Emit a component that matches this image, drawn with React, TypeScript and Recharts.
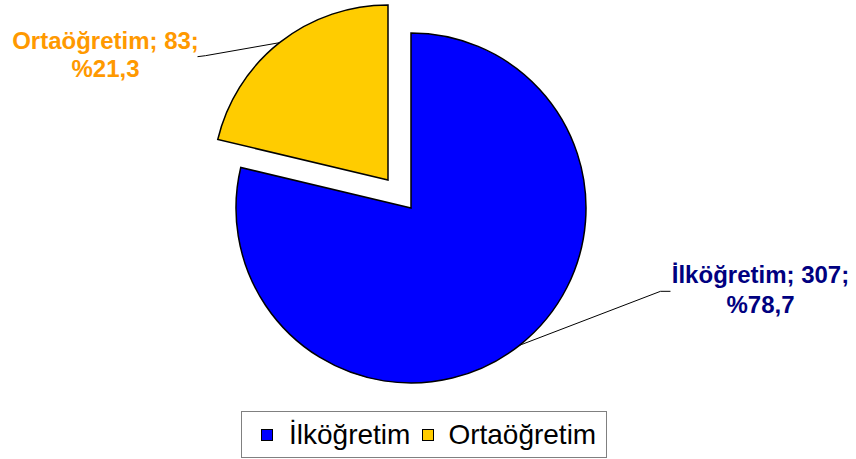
import React from 'react';
import { PieChart, Pie, Cell, Legend } from 'recharts';

// chart data
const categories = ['İlköğretim', 'Ortaöğretim'];
const counts = [307, 83];
const sliceColors = ['#0000FF', '#FFCC00'];
const labelColors = ['#000080', '#FF9900'];

const total = counts.reduce((a, b) => a + b, 0);
const pieData = categories.map((name, i) => ({
  name,
  value: counts[i],
  pct: ((counts[i] / total) * 100).toFixed(1).replace('.', ','),
}));

const RADIAN = Math.PI / 180;
const FONT = '"Liberation Sans", Arial, sans-serif';

// label leader-line / text offsets relative to the slice mid point on the arc
const labelLayout = [
  { elbow: [141, -54], end: [151, -54], text: [241, -62], gap: 30 },
  { elbow: [-74, 13], end: [-82, 14], text: [-174, 6], gap: 28 },
];

const makeLabel = (showIndex: number) => (props: any) => {
  const { cx, cy, midAngle, outerRadius, index } = props;
  if (index !== showIndex) return null;
  const ax = cx + outerRadius * Math.cos(-midAngle * RADIAN);
  const ay = cy + outerRadius * Math.sin(-midAngle * RADIAN);
  const l = labelLayout[index];
  const d = pieData[index];
  return (
    <g>
      <polyline
        points={`${ax},${ay} ${ax + l.elbow[0]},${ay + l.elbow[1]} ${ax + l.end[0]},${ay + l.end[1]}`}
        fill="none"
        stroke="#000"
        strokeWidth={1}
      />
      <text
        x={ax + l.text[0]}
        y={ay + l.text[1]}
        textAnchor="middle"
        fill={labelColors[index]}
        fontFamily={FONT}
        fontWeight="bold"
        fontSize={24}
      >
        <tspan x={ax + l.text[0]} dy={0}>{`${d.name}; ${d.value};`}</tspan>
        <tspan x={ax + l.text[0]} dy={l.gap}>{`%${d.pct}`}</tspan>
      </text>
    </g>
  );
};

const renderLegend = () => (
  <div
    style={{
      border: '1px solid #808080',
      width: 366,
      height: 47,
      boxSizing: 'border-box',
      display: 'flex',
      alignItems: 'center',
      paddingLeft: 19,
      fontFamily: FONT,
      fontSize: 28,
      color: '#000',
      background: '#fff',
      whiteSpace: 'nowrap',
    }}
  >
    {categories.map((c, i) => (
      <span key={c} style={{ display: 'flex', alignItems: 'center', marginRight: 12 }}>
        <span
          style={{
            width: 10,
            height: 10,
            background: sliceColors[i],
            border: '1px solid #000',
            marginRight: i === 0 ? 16 : 14,
            display: 'inline-block',
          }}
        />
        {c}
      </span>
    ))}
  </div>
);

const App: React.FC = () => {
  return (
    <div style={{ position: 'absolute', left: 0, top: 0, background: '#fff' }}>
      <PieChart width={856} height={459} margin={{ top: 0, right: 0, bottom: 0, left: 0 }}>
        <Pie
          data={pieData}
          dataKey="value"
          cx={411}
          cy={208}
          outerRadius={175}
          startAngle={90}
          endAngle={-270}
          stroke="#000"
          strokeWidth={1.5}
          label={makeLabel(0)}
          labelLine={false}
          isAnimationActive={false}
        >
          {pieData.map((d, i) => (
            <Cell key={d.name} fill={i === 0 ? sliceColors[0] : 'none'} stroke={i === 0 ? '#000' : 'none'} />
          ))}
        </Pie>
        <Pie
          data={pieData}
          dataKey="value"
          cx={388}
          cy={180}
          outerRadius={175}
          startAngle={90}
          endAngle={-270}
          stroke="#000"
          strokeWidth={1.5}
          label={makeLabel(1)}
          labelLine={false}
          isAnimationActive={false}
        >
          {pieData.map((d, i) => (
            <Cell key={d.name} fill={i === 1 ? sliceColors[1] : 'none'} stroke={i === 1 ? '#000' : 'none'} />
          ))}
        </Pie>
        <Legend
          content={renderLegend}
          wrapperStyle={{ position: 'absolute', left: 241, top: 411, width: 366, bottom: 'auto' }}
        />
      </PieChart>
    </div>
  );
};

export default App;
